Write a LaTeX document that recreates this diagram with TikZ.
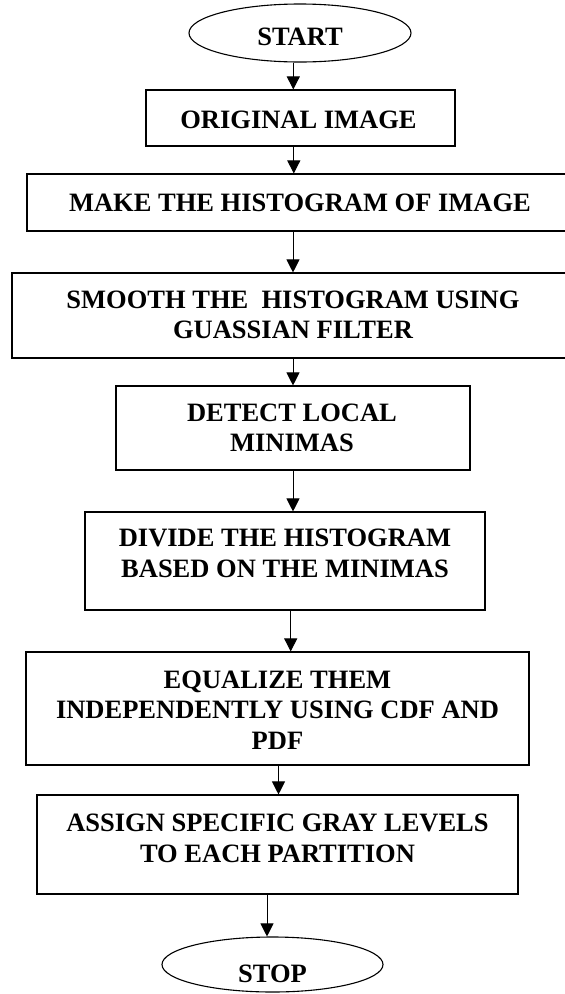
\documentclass[tikz,border=0pt]{standalone}
\usepackage{fontspec}
\setmainfont{Liberation Serif}
\usetikzlibrary{arrows.meta,shapes.geometric}
\begin{document}
\begin{tikzpicture}[x=1pt,y=-1pt,
  boxnode/.style={draw=black,line width=1.1pt,rectangle,inner sep=0pt},
  termnode/.style={draw=black,line width=1.1pt,ellipse,inner sep=0pt},
  txt/.style={anchor=base,inner sep=0pt,font=\fontsize{26.5}{30.5}\selectfont\bfseries},
  arr/.style={line width=1pt,-{Triangle[length=13pt,width=13pt]}}]
\useasboundingbox (0,0) rectangle (565,994);
\clip (0,0) rectangle (565,994);
% shapes
\node[termnode,minimum width=222pt,minimum height=58pt] (b1) at (300,33) {};
\node[boxnode,minimum width=309pt,minimum height=56pt] (b2) at (300.5,118) {};
\node[boxnode,minimum width=546pt,minimum height=57pt] (b3) at (300,202.5) {};
\node[boxnode,minimum width=562pt,minimum height=85pt] (b4) at (293,315.5) {};
\node[boxnode,minimum width=354pt,minimum height=84pt] (b5) at (293,428) {};
\node[boxnode,minimum width=400pt,minimum height=98pt] (b6) at (285,561) {};
\node[boxnode,minimum width=503pt,minimum height=113pt] (b7) at (277.5,708.5) {};
\node[boxnode,minimum width=481pt,minimum height=99pt] (b8) at (277.5,844.5) {};
\node[termnode,minimum width=221pt,minimum height=55pt] (b9) at (272.5,964.5) {};
% texts
\node[txt] (t1) at (300,45.7) {START};
\node[txt] (t2) at (298.5,128.3) {ORIGINAL IMAGE};
\node[txt] (t3) at (300,211.7) {MAKE THE HISTOGRAM OF IMAGE};
\node[txt] (t4) at (293,308.3) {\begin{tabular}[t]{@{}c@{}}SMOOTH THE\ \ HISTOGRAM USING\\GUASSIAN FILTER\end{tabular}};
\node[txt] (t5) at (292,421) {\begin{tabular}[t]{@{}c@{}}DETECT LOCAL\\MINIMAS\end{tabular}};
\node[txt] (t6) at (285,546.7) {\begin{tabular}[t]{@{}c@{}}DIVIDE THE HISTOGRAM\\BASED ON THE MINIMAS\end{tabular}};
\node[txt] (t7) at (277.5,688.3) {\begin{tabular}[t]{@{}c@{}}EQUALIZE THEM\\INDEPENDENTLY USING CDF AND\\PDF\end{tabular}};
\node[txt] (t8) at (277.5,831.7) {\begin{tabular}[t]{@{}c@{}}ASSIGN SPECIFIC GRAY LEVELS\\TO EACH PARTITION\end{tabular}};
\node[txt] (t9) at (272.5,982) {STOP};
% connectors
\draw[arr] ([xshift=-6.7pt]b1.south) -- ([xshift=-6.7pt]b1.south |- b2.north);
\draw[arr] ([xshift=-6.7pt]b2.south) -- ([xshift=-6.7pt]b2.south |- b3.north);
\draw[arr] ([xshift=-7pt]b3.south) -- ([xshift=-7pt]b3.south |- b4.north);
\draw[arr] (b4.south) -- (b5.north);
\draw[arr] (b5.south) -- (b5.south |- b6.north);
\draw[arr] ([xshift=5.7pt]b6.south) -- ([xshift=5.7pt]b6.south |- b7.north);
\draw[arr] ([xshift=1pt]b7.south) -- ([xshift=1pt]b7.south |- b8.north);
\draw[arr] ([xshift=-10.5pt]b8.south) -- ([xshift=-10.5pt]b8.south |- b9.north);
\end{tikzpicture}
\end{document}
